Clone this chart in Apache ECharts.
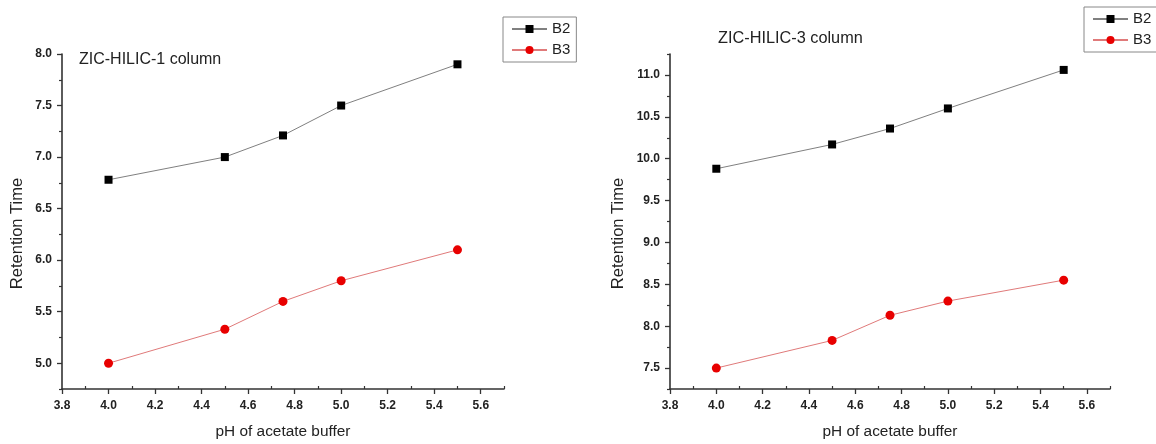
<!DOCTYPE html>
<html>
<head>
<meta charset="utf-8">
<script src="https://cdn.jsdelivr.net/npm/echarts@6/dist/echarts.min.js"></script>
<style>
html,body{margin:0;padding:0;background:#fff;}
#chart{width:1156px;height:444px;}
</style>
</head>
<body>
<div id="chart"></div>
<script>
// ---- data ----
const phValues = [4.0, 4.5, 4.75, 5.0, 5.5];
const leftB2 = [6.78, 7.00, 7.21, 7.50, 7.90];
const leftB3 = [5.00, 5.33, 5.60, 5.80, 6.10];
const rightB2 = [9.88, 10.17, 10.36, 10.60, 11.06];
const rightB3 = [7.50, 7.83, 8.13, 8.30, 8.55];

const xTicks = [3.8, 4.0, 4.2, 4.4, 4.6, 4.8, 5.0, 5.2, 5.4, 5.6];
const xMinorTicks = [3.9, 4.1, 4.3, 4.5, 4.7, 4.9, 5.1, 5.3, 5.5, 5.7];
const leftYTicks = [5.0, 5.5, 6.0, 6.5, 7.0, 7.5, 8.0];
const leftYMinorTicks = [4.75, 5.25, 5.75, 6.25, 6.75, 7.25, 7.75];
const rightYTicks = [7.5, 8.0, 8.5, 9.0, 9.5, 10.0, 10.5, 11.0];
const rightYMinorTicks = [7.25, 7.75, 8.25, 8.75, 9.25, 9.75, 10.25, 10.75, 11.25];

const titles = ['ZIC-HILIC-1 column', 'ZIC-HILIC-3 column'];
const seriesNames = ['B2', 'B3'];
const xName = 'pH of acetate buffer';
const yName = 'Retention Time';

const FONT = '"Liberation Sans", Arial, sans-serif';
const axisColor = '#333';
const textColor = '#222';

function pairs(xs, ys) { return xs.map((x, i) => [x, ys[i]]); }

function majorX(grid) {
  return {
    type: 'value', gridIndex: grid, min: 3.8, max: 5.7,
    name: xName, nameLocation: 'middle', nameGap: 35,
    nameTextStyle: {fontFamily: FONT, fontSize: 15.4, color: textColor},
    axisLine: {show: true, lineStyle: {color: axisColor, width: 1.6}},
    axisTick: {show: true, inside: false, length: 5, customValues: xTicks, lineStyle: {color: axisColor, width: 1.3}},
    axisLabel: {customValues: xTicks, formatter: v => v.toFixed(1), fontFamily: FONT, fontWeight: 'bold', fontSize: 12, color: textColor, margin: 11},
    splitLine: {show: false}
  };
}
function minorX(grid) {
  return {
    type: 'value', gridIndex: grid, min: 3.8, max: 5.7, position: 'bottom',
    axisLine: {show: false},
    axisTick: {show: true, inside: true, length: 3, customValues: xMinorTicks, lineStyle: {color: axisColor, width: 1.2}},
    axisLabel: {show: false},
    splitLine: {show: false}
  };
}
function majorY(grid, min, max, ticks, gap) {
  return {
    type: 'value', gridIndex: grid, min: min, max: max,
    name: yName, nameLocation: 'middle', nameGap: gap,
    nameTextStyle: {fontFamily: FONT, fontSize: 16.5, color: textColor, padding: [0, 24, 0, 0]},
    axisLine: {show: true, lineStyle: {color: axisColor, width: 1.6}},
    axisTick: {show: true, inside: false, length: 5, customValues: ticks, lineStyle: {color: axisColor, width: 1.3}},
    axisLabel: {customValues: ticks, formatter: v => v.toFixed(1), fontFamily: FONT, fontWeight: 'bold', fontSize: 12, color: textColor, margin: 10},
    splitLine: {show: false}
  };
}
function minorY(grid, min, max, ticks) {
  return {
    type: 'value', gridIndex: grid, min: min, max: max, position: 'left',
    axisLine: {show: false},
    axisTick: {show: true, inside: false, length: 3, customValues: ticks, lineStyle: {color: axisColor, width: 1.2}},
    axisLabel: {show: false},
    splitLine: {show: false}
  };
}
function lineSeries(name, xi, yi, data, isB2) {
  return {
    name: name, type: 'line', xAxisIndex: xi, yAxisIndex: yi,
    data: data,
    symbol: isB2 ? 'rect' : 'circle',
    symbolSize: isB2 ? 8 : 9,
    showSymbol: true,
    lineStyle: {color: isB2 ? '#808080' : '#e07a7a', width: 1},
    itemStyle: {color: isB2 ? '#000' : '#e80000'},
    emphasis: {disabled: true},
    z: isB2 ? 3 : 2
  };
}
function legend(left, top) {
  return {
    orient: 'vertical', left: left, top: top,
    data: seriesNames,
    itemWidth: 35, itemHeight: 10, itemGap: 3,
    padding: [3, 6, 3, 8],
    borderColor: '#888', borderWidth: 1,
    textStyle: {fontFamily: FONT, fontSize: 15, color: textColor, lineHeight: 18, padding: [0, 0, 0, 0]},
    selectedMode: false
  };
}

const option = {
  animation: false,
  backgroundColor: '#fff',
  title: [
    {text: titles[0], left: 79, top: 52, textStyle: {fontFamily: FONT, fontSize: 16, fontWeight: 'normal', color: textColor}, padding: 0},
    {text: titles[1], left: 718, top: 31, textStyle: {fontFamily: FONT, fontSize: 16.3, fontWeight: 'normal', color: textColor}, padding: 0}
  ],
  legend: [legend(503, 17), legend(1084, 7)],
  grid: [
    {left: 62, right: 652, top: 54, bottom: 52},
    {left: 670, right: 46, top: 54, bottom: 52}
  ],
  xAxis: [majorX(0), minorX(0), majorX(1), minorX(1)],
  yAxis: [
    majorY(0, 4.75, 8.0, leftYTicks, 36),
    minorY(0, 4.75, 8.0, leftYMinorTicks),
    majorY(1, 7.25, 11.25, rightYTicks, 43),
    minorY(1, 7.25, 11.25, rightYMinorTicks)
  ],
  series: [
    lineSeries(seriesNames[0], 0, 0, pairs(phValues, leftB2), true),
    lineSeries(seriesNames[1], 0, 0, pairs(phValues, leftB3), false),
    lineSeries(seriesNames[0], 2, 2, pairs(phValues, rightB2), true),
    lineSeries(seriesNames[1], 2, 2, pairs(phValues, rightB3), false)
  ]
};

const chart = echarts.init(document.getElementById('chart'), null, {renderer: 'canvas'});
chart.setOption(option);
</script>
</body>
</html>
